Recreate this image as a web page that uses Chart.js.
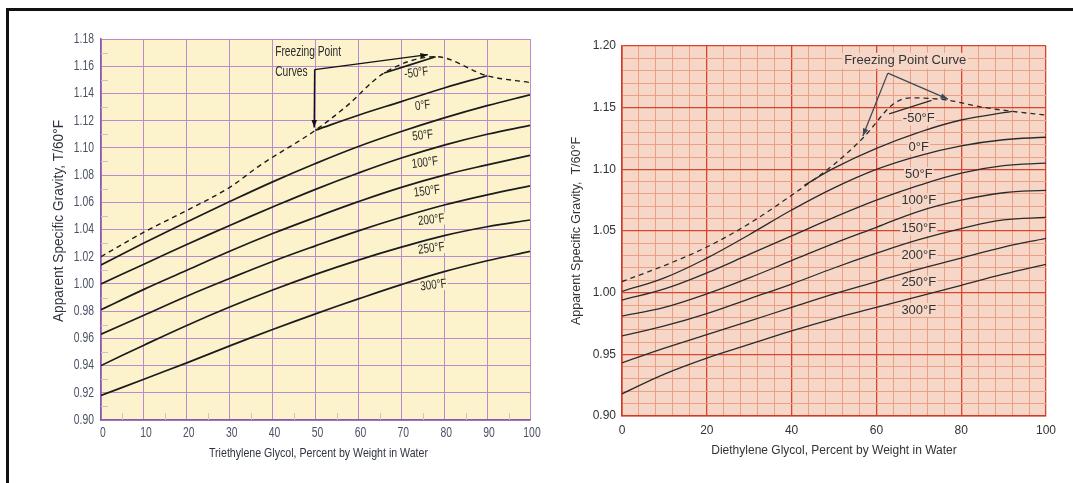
<!DOCTYPE html>
<html>
<head>
<meta charset="utf-8">
<script src="https://cdn.jsdelivr.net/npm/chart.js@4/dist/chart.umd.min.js"></script>
<style>
body { margin: 0; background: #fff; width: 1073px; height: 483px; overflow: hidden; position: relative; }
#frame { position: absolute; left: 6px; top: 8px; width: 1100px; height: 500px; border-top: 3px solid #111; border-left: 3px solid #111; }
#c1 { position: absolute; left: 0; top: 0; }
#c2 { position: absolute; left: 545px; top: 0; }
</style>
</head>
<body>
<div id="frame"></div>
<canvas id="c1" width="545" height="483"></canvas>
<canvas id="c2" width="528" height="483"></canvas>
<script>
// Percent glycol by weight (x positions of the read values)
const pct = [0, 10, 20, 30, 40, 50, 60, 70, 80, 90, 100];
const tempLabels = ["-50°F", "0°F", "50°F", "100°F", "150°F", "200°F", "250°F", "300°F"];

// Triethylene glycol (left chart)
const tegT50  = [1.014, 1.030, 1.0455, 1.0605, 1.075, 1.0885, 1.101, 1.112, 1.122, 1.131, 1.139];
const tegT100 = [1.000, 1.0145, 1.029, 1.043, 1.0565, 1.0695, 1.0815, 1.0925, 1.102, 1.110, 1.1165];
const tegT150 = [0.981, 0.996, 1.010, 1.024, 1.037, 1.049, 1.0605, 1.071, 1.080, 1.0875, 1.0945];
const tegT200 = [0.963, 0.977, 0.991, 1.004, 1.0165, 1.028, 1.039, 1.049, 1.058, 1.0655, 1.072];
const tegT250 = [0.940, 0.955, 0.9695, 0.983, 0.9955, 1.007, 1.0175, 1.027, 1.0355, 1.042, 1.047];
const tegT300 = [0.918, 0.930, 0.942, 0.9545, 0.9665, 0.978, 0.989, 0.9995, 1.009, 1.017, 1.024];
const tegT0X  = [50, 60, 70, 80, 90];
const tegT0   = [1.113, 1.124, 1.134, 1.144, 1.153];
const tegTm50X = [66, 78];
const tegTm50  = [1.155, 1.167];
const tegFreezeX = [0, 10, 20, 30, 37, 50, 57, 66, 78, 90, 100];
const tegFreeze  = [1.020, 1.038, 1.054, 1.071, 1.087, 1.113, 1.130, 1.155, 1.167, 1.153, 1.148];
const tegRangeY = [0.90, 1.18];

// Diethylene glycol (right chart)
const degT50  = [1.001, 1.012, 1.028, 1.047, 1.067, 1.085, 1.100, 1.111, 1.119, 1.124, 1.126];
const degT100 = [0.994, 1.003, 1.016, 1.031, 1.046, 1.061, 1.075, 1.087, 1.097, 1.103, 1.105];
const degT150 = [0.981, 0.988, 0.999, 1.012, 1.026, 1.040, 1.053, 1.066, 1.075, 1.081, 1.083];
const degT200 = [0.965, 0.973, 0.983, 0.995, 1.007, 1.020, 1.032, 1.043, 1.052, 1.059, 1.061];
const degT250 = [0.943, 0.955, 0.966, 0.977, 0.988, 0.999, 1.009, 1.019, 1.028, 1.037, 1.044];
const degT300 = [0.918, 0.934, 0.947, 0.958, 0.969, 0.979, 0.988, 0.997, 1.006, 1.015, 1.023];
const degT0X  = [43, 50, 60, 70, 80, 92];
const degT0   = [1.087, 1.101, 1.117, 1.130, 1.140, 1.147];
const degTm50X = [63, 73];
const degTm50  = [1.145, 1.156];
const degFreezeX = [0, 10, 20, 30, 40, 50, 57, 64, 68, 77, 84, 92, 100];
const degFreeze  = [1.009, 1.022, 1.037, 1.056, 1.079, 1.104, 1.126, 1.153, 1.158, 1.156, 1.151, 1.147, 1.144];
const degRangeY = [0.90, 1.20];

// where the temperature labels sit (x %, y sg)
const tegLabelX = [73.5, 75, 75, 75.5, 76, 77, 77, 77.5];
const tegLabelY = [1.155, 1.131, 1.109, 1.089, 1.068, 1.047, 1.026, 0.999];
const degLabelX = [70, 70, 70, 70, 70, 70, 70, 70];
const degLabelY = [1.141, 1.118, 1.096, 1.075, 1.052, 1.030, 1.008, 0.986];

const sans = "'Liberation Sans', Arial, sans-serif";
const squeeze = 0.74;   // the left chart uses a condensed face

function pts(xs, ys) {
    return xs.map((x, i) => ({x: x, y: ys[i]}));
}

function curve(xs, ys, color, width, dash) {
    return {
        data: pts(xs, ys),
        borderColor: color,
        borderWidth: width,
        borderDash: dash || [],
        pointRadius: 0,
        fill: false,
        tension: dash ? 0 : 0.4,
        cubicInterpolationMode: dash ? 'monotone' : 'default'
    };
}

function arrow(ctx, x1, y1, x2, y2, size) {
    ctx.beginPath();
    ctx.moveTo(x1, y1);
    ctx.lineTo(x2, y2);
    ctx.stroke();
    const a = Math.atan2(y2 - y1, x2 - x1);
    ctx.beginPath();
    ctx.moveTo(x2, y2);
    ctx.lineTo(x2 - size * Math.cos(a - 0.35), y2 - size * Math.sin(a - 0.35));
    ctx.lineTo(x2 - size * Math.cos(a + 0.35), y2 - size * Math.sin(a + 0.35));
    ctx.closePath();
    ctx.fill();
}

function near(v, step) {
    return Math.abs(v / step - Math.round(v / step)) < 1e-6;
}

// narrow text: draw with a horizontal squeeze
function narrowText(ctx, text, x, y, sx, align, rot) {
    ctx.save();
    ctx.translate(x, y);
    if (rot) ctx.rotate(rot);
    ctx.scale(sx, 1);
    ctx.textAlign = align;
    ctx.fillText(text, 0, 0);
    ctx.restore();
}

// ---------- left chart: triethylene glycol ----------
const tegBg = '#fcf3cd';
const tegPlugin = {
    id: 'teg',
    beforeDraw(chart) {
        const {ctx, chartArea: a} = chart;
        ctx.save();
        ctx.fillStyle = tegBg;
        ctx.fillRect(a.left, a.top, a.right - a.left, a.bottom - a.top);
        ctx.restore();
    },
    beforeDatasetsDraw(chart) {
        const {ctx, chartArea: a, scales: {x, y}} = chart;
        ctx.save();
        // small in-side ticks
        ctx.strokeStyle = '#cdbfd3';
        ctx.lineWidth = 1;
        for (let v = 0.91; v < 1.18; v += 0.02) {
            const py = Math.round(y.getPixelForValue(v)) + 0.5;
            ctx.beginPath(); ctx.moveTo(a.left, py); ctx.lineTo(a.left + 7, py); ctx.stroke();
        }
        for (let v = 5; v < 100; v += 10) {
            const px = Math.round(x.getPixelForValue(v)) + 0.5;
            ctx.beginPath(); ctx.moveTo(px, a.bottom); ctx.lineTo(px, a.bottom - 7); ctx.stroke();
        }
        // temperature labels
        ctx.font = "13px " + sans;
        ctx.textBaseline = 'middle';
        tempLabels.forEach((t, i) => {
            const px = x.getPixelForValue(tegLabelX[i]);
            const py = y.getPixelForValue(tegLabelY[i]);
            const w = ctx.measureText(t).width * 0.76;
            ctx.save();
            ctx.translate(px, py);
            ctx.rotate(-0.12);
            ctx.fillStyle = tegBg;
            ctx.fillRect(-w / 2 - 1, -6, w + 2, 12);
            ctx.restore();
            ctx.fillStyle = '#2a2a2a';
            narrowText(ctx, t, px, py, 0.76, 'center', -0.12);
        });
        ctx.restore();
    },
    afterDatasetsDraw(chart) {
        const {ctx, scales: {x, y}} = chart;
        ctx.save();
        ctx.font = "14px " + sans;
        ctx.fillStyle = '#2a2a2a';
        ctx.textBaseline = 'middle';
        narrowText(ctx, 'Freezing Point', x.getPixelForValue(40.6), y.getPixelForValue(1.1705), 0.73, 'left');
        narrowText(ctx, 'Curves', x.getPixelForValue(40.6), y.getPixelForValue(1.1555), 0.73, 'left');
        ctx.strokeStyle = '#111';
        ctx.fillStyle = '#111';
        ctx.lineWidth = 1.4;
        const jx = x.getPixelForValue(49.8), jy = y.getPixelForValue(1.1575);
        arrow(ctx, jx, jy, x.getPixelForValue(76.2), y.getPixelForValue(1.1685), 8);
        arrow(ctx, jx, jy, x.getPixelForValue(49.7), y.getPixelForValue(1.1150), 8);
        ctx.restore();
    },
    afterDraw(chart) {
        // tick labels and titles in a condensed look
        const {ctx, chartArea: a, scales: {x, y}} = chart;
        ctx.save();
        ctx.font = "14px " + sans;
        ctx.fillStyle = '#4a5264';
        ctx.textBaseline = 'middle';
        y.ticks.forEach(t => {
            narrowText(ctx, t.value.toFixed(2), a.left - 7, y.getPixelForValue(t.value), squeeze, 'right');
        });
        x.ticks.forEach(t => {
            narrowText(ctx, String(Math.round(t.value)), x.getPixelForValue(t.value) + 2, a.bottom + 13, squeeze, 'center');
        });
        ctx.fillStyle = '#2f3440';
        ctx.font = "13.5px " + sans;
        const xt = 'Triethylene Glycol, Percent by Weight in Water';
        narrowText(ctx, xt, (a.left + a.right) / 2 + 3, 453, 219 / ctx.measureText(xt).width, 'center');
        ctx.font = "14.5px " + sans;
        const yt = 'Apparent Specific Gravity, T/60°F';
        narrowText(ctx, yt, 59, 221, 202 / ctx.measureText(yt).width, 'center', -Math.PI / 2);
        ctx.restore();
    }
};

const lc = '#1b1b1b';
new Chart(document.getElementById('c1'), {
    type: 'line',
    data: {
        datasets: [
            curve(tegFreezeX, tegFreeze, lc, 1.4, [5, 4]),
            curve(tegTm50X, tegTm50, lc, 1.7),
            curve(tegT0X, tegT0, lc, 1.7),
            curve(pct, tegT50, lc, 1.7),
            curve(pct, tegT100, lc, 1.7),
            curve(pct, tegT150, lc, 1.7),
            curve(pct, tegT200, lc, 1.7),
            curve(pct, tegT250, lc, 1.7),
            curve(pct, tegT300, lc, 1.7)
        ]
    },
    options: {
        responsive: false,
        animation: false,
        layout: { padding: { top: 39, right: 15, left: 0, bottom: 0 } },
        plugins: { legend: { display: false }, tooltip: { enabled: false } },
        scales: {
            x: {
                type: 'linear', min: 0, max: 100,
                ticks: { stepSize: 10, display: false },
                grid: { color: '#b98ccf', lineWidth: 1, drawTicks: false },
                border: { color: '#8a5aa6', width: 1.5 },
                afterFit: s => { s.height = 63; }
            },
            y: {
                type: 'linear', min: tegRangeY[0], max: tegRangeY[1],
                ticks: { stepSize: 0.02, display: false },
                grid: { color: '#b98ccf', lineWidth: 1, drawTicks: false },
                border: { color: '#8a5aa6', width: 1.5 },
                afterFit: s => { s.width = 101; }
            }
        }
    },
    plugins: [tegPlugin]
});

// ---------- right chart: diethylene glycol ----------
const degBg = '#f6d7c7';
const degPlugin = {
    id: 'deg',
    beforeDraw(chart) {
        const {ctx, chartArea: a} = chart;
        ctx.save();
        ctx.fillStyle = degBg;
        ctx.fillRect(a.left, a.top, a.right - a.left, a.bottom - a.top);
        ctx.restore();
    },
    beforeDatasetsDraw(chart) {
        const {ctx, scales: {x, y}} = chart;
        ctx.save();
        ctx.font = "13px " + sans;
        ctx.textAlign = 'center';
        ctx.textBaseline = 'middle';
        tempLabels.forEach((t, i) => {
            const px = x.getPixelForValue(degLabelX[i]);
            const py = y.getPixelForValue(degLabelY[i]);
            const w = ctx.measureText(t).width;
            ctx.fillStyle = degBg;
            ctx.fillRect(px - w / 2 - 1, py - 7, w + 2, 14);
            ctx.fillStyle = '#333';
            ctx.fillText(t, px, py);
        });
        // callout text
        const tx = x.getPixelForValue(66.8), ty = y.getPixelForValue(1.188);
        const tw = ctx.measureText('Freezing Point Curve').width;
        ctx.fillStyle = degBg;
        ctx.fillRect(tx - tw / 2 - 2, ty - 8, tw + 4, 16);
        ctx.fillStyle = '#333';
        ctx.fillText('Freezing Point Curve', tx, ty);
        ctx.restore();
    },
    afterDatasetsDraw(chart) {
        const {ctx, scales: {x, y}} = chart;
        ctx.save();
        ctx.strokeStyle = '#3d4a55';
        ctx.fillStyle = '#3d4a55';
        ctx.lineWidth = 1.3;
        const jx = x.getPixelForValue(62.7), jy = y.getPixelForValue(1.178);
        arrow(ctx, jx, jy, x.getPixelForValue(56.8), y.getPixelForValue(1.127), 8);
        arrow(ctx, jx, jy, x.getPixelForValue(76.9), y.getPixelForValue(1.157), 8);
        ctx.restore();
    }
};

const dc = '#2b2b2b';
new Chart(document.getElementById('c2'), {
    type: 'line',
    data: {
        datasets: [
            curve(degFreezeX, degFreeze, dc, 1.3, [5, 4]),
            curve(degTm50X, degTm50, dc, 1.3),
            curve(degT0X, degT0, dc, 1.3),
            curve(pct, degT50, dc, 1.3),
            curve(pct, degT100, dc, 1.3),
            curve(pct, degT150, dc, 1.3),
            curve(pct, degT200, dc, 1.3),
            curve(pct, degT250, dc, 1.3),
            curve(pct, degT300, dc, 1.3)
        ]
    },
    options: {
        responsive: false,
        animation: false,
        layout: { padding: { top: 46, right: 27, left: 0, bottom: 0 } },
        plugins: { legend: { display: false }, tooltip: { enabled: false } },
        scales: {
            x: {
                type: 'linear', min: 0, max: 100,
                ticks: { stepSize: 4, autoSkip: false, padding: 7, maxRotation: 0, color: '#333', font: { family: sans, size: 12 },
                         callback: v => near(v, 20) ? String(v) : '' },
                grid: { drawTicks: false,
                        color: c => (c.tick && near(c.tick.value, 20)) ? '#d8452e' : '#eba085',
                        lineWidth: c => (c.tick && near(c.tick.value, 20)) ? 1.3 : 1 },
                border: { color: '#d33a25', width: 1.6 },
                title: { display: true, text: 'Diethylene Glycol, Percent by Weight in Water', color: '#333',
                         font: { family: sans, size: 12 }, padding: { top: 0, bottom: 25 } },
                afterFit: s => { s.height = 67; }
            },
            y: {
                type: 'linear', min: degRangeY[0], max: degRangeY[1],
                ticks: { stepSize: 0.01, autoSkip: false, padding: 6, color: '#333', font: { family: sans, size: 12 },
                         callback: v => near(v, 0.05) ? v.toFixed(2) : '' },
                grid: { drawTicks: false,
                        color: c => (c.tick && near(c.tick.value, 0.05)) ? '#d8452e' : '#eba085',
                        lineWidth: c => (c.tick && near(c.tick.value, 0.05)) ? 1.3 : 1 },
                border: { color: '#d33a25', width: 1.6 },
                title: { display: true, text: 'Apparent Specific Gravity,  T/60°F', color: '#333',
                         font: { family: sans, size: 12.5 }, padding: { top: 24, bottom: 0 } },
                afterFit: s => { s.width = 77; }
            }
        }
    },
    plugins: [degPlugin]
});
</script>
</body>
</html>
